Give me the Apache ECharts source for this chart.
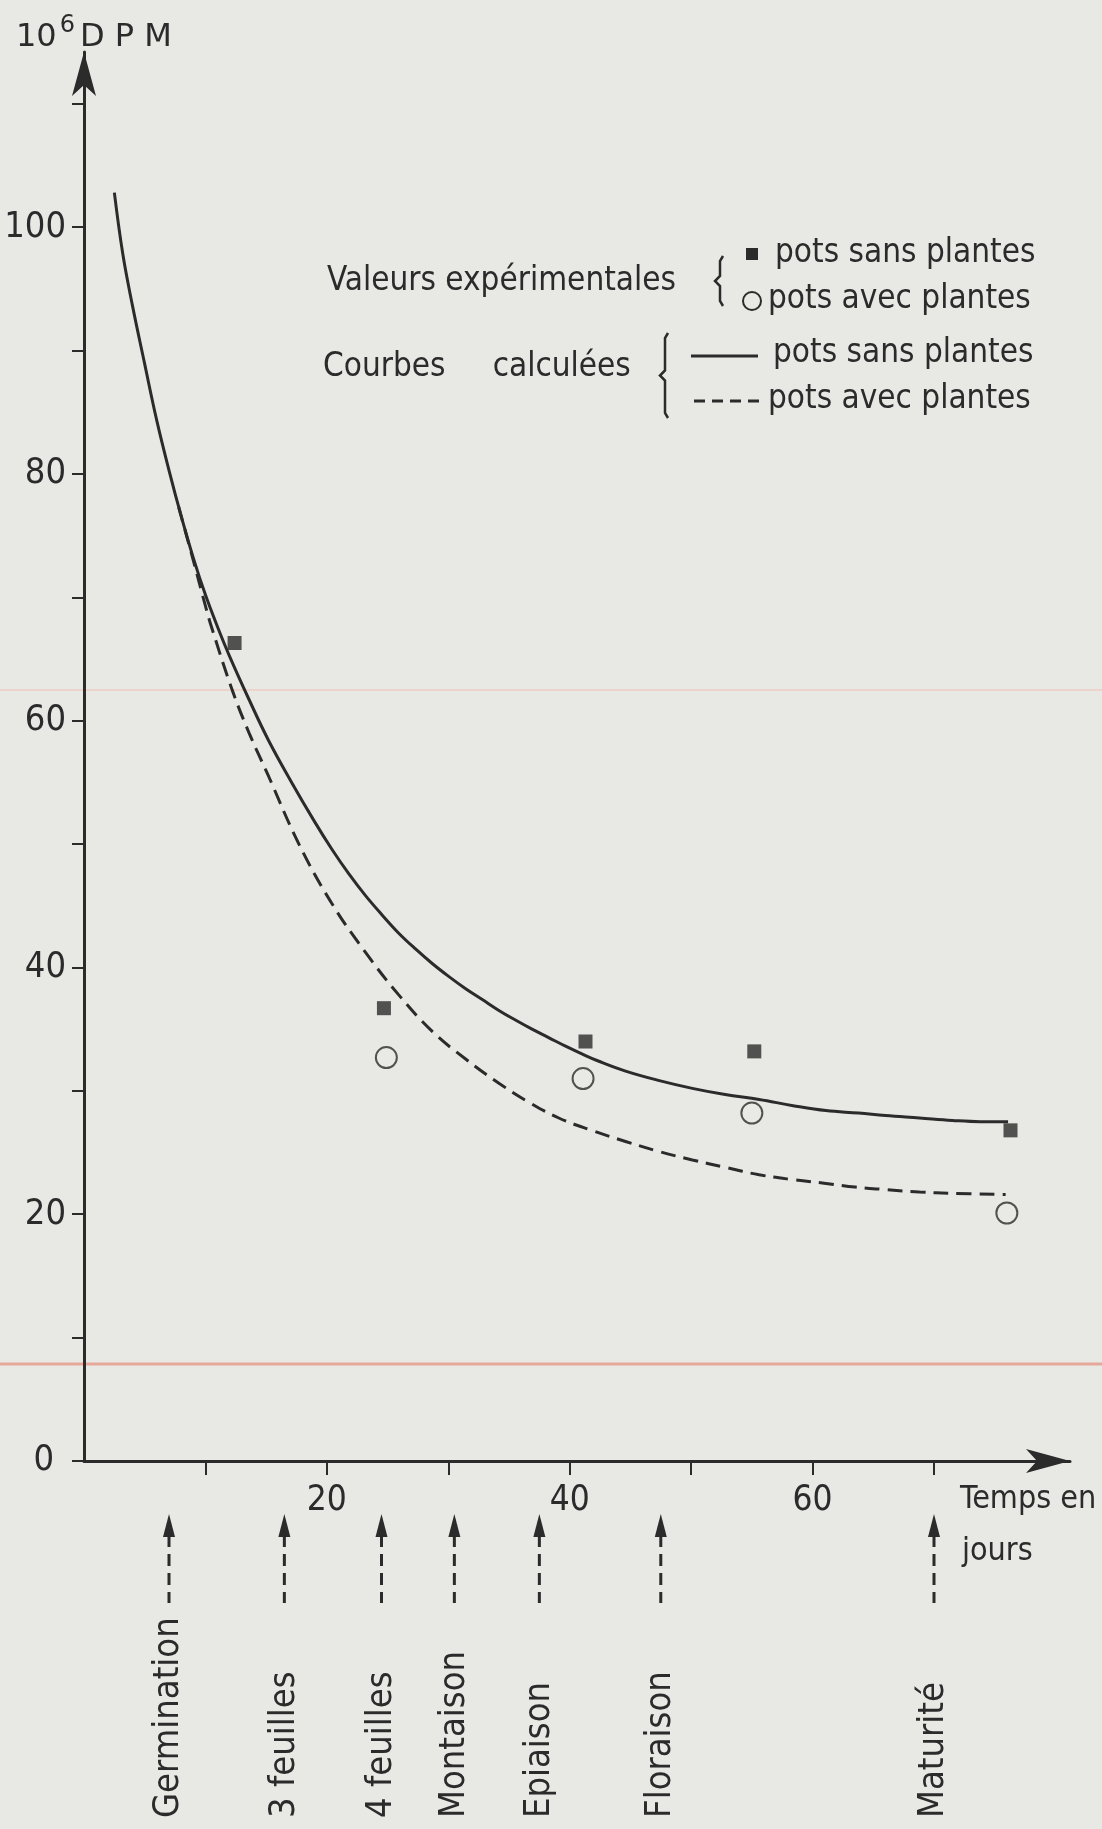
<!DOCTYPE html>
<html>
<head>
<meta charset="utf-8">
<title>Activité 10^6 DPM - pots sans / avec plantes</title>
<script src="https://cdn.jsdelivr.net/npm/echarts@6/dist/echarts.min.js"></script>
<style>
  html, body { margin: 0; padding: 0; background: #e8e8e5; }
  #chart { width: 1102px; height: 1829px; }
</style>
</head>
<body>
<div id="chart"></div>
<script>
// courbe calculée - pots sans plantes (trait plein)
const solidCurve = [
  [2.5, 102.8], [3.2, 97.8], [4.0, 93.6], [5.0, 88.9], [6.0, 84.3], [7.0, 80.3],
  [8.0, 76.6], [9.0, 73.2], [10.0, 70.2], [11.0, 67.6], [12.0, 65.2], [13.6, 61.7],
  [15.2, 58.4], [17.1, 55.0], [19.0, 51.8], [20.4, 49.6], [21.8, 47.6], [23.2, 45.8],
  [24.6, 44.2], [25.9, 42.8], [27.3, 41.5], [28.7, 40.3], [30.0, 39.3], [31.4, 38.3],
  [32.8, 37.4], [34.2, 36.5], [35.6, 35.7], [36.9, 35.0], [38.3, 34.3], [39.7, 33.6],
  [41.0, 33.0], [42.4, 32.4], [44.6, 31.6], [47.3, 30.85], [50.1, 30.2], [52.8, 29.7],
  [55.6, 29.3], [58.4, 28.8], [61.1, 28.4], [63.8, 28.2], [66.0, 28.0], [68.8, 27.8],
  [71.5, 27.6], [73.8, 27.5], [76.1, 27.5]
];
// courbe calculée - pots avec plantes (tirets)
const dashedCurve = [
  [7.8, 77.3], [9.0, 73.0], [10.0, 69.3], [10.5, 67.6], [12.2, 62.5], [13.6, 59.0],
  [15.2, 55.5], [17.7, 50.0], [20.4, 45.2], [23.2, 41.2], [25.9, 37.8], [28.7, 34.8],
  [31.4, 32.6], [34.2, 30.6], [36.6, 29.1], [39.1, 27.8], [41.8, 26.8], [44.6, 25.9],
  [47.3, 25.1], [50.1, 24.4], [52.8, 23.8], [55.6, 23.2], [58.4, 22.8], [61.1, 22.5],
  [63.5, 22.2], [66.0, 22.0], [68.8, 21.8], [71.5, 21.7], [75.9, 21.6]
];
// valeurs expérimentales
const sansPoints = [[12.4, 66.3], [24.7, 36.7], [41.3, 34.0], [55.2, 33.2], [76.3, 26.8]];
const avecPoints = [[24.9, 32.7], [41.1, 31.0], [55.0, 28.2], [76.0, 20.1]];

// graduations
const yTicks = [0, 10, 20, 30, 40, 50, 60, 70, 80, 90, 100, 110];
const yLabels = [0, 20, 40, 60, 80, 100];
const xTicks = [10, 20, 30, 40, 50, 60, 70];
const xLabels = [20, 40, 60];

// stades de développement (jours)
const stageNames = ['Germination', '3 feuilles', '4 feuilles', 'Montaison', 'Epiaison', 'Floraison', 'Maturité'];
const stageDays = [7, 16.5, 24.5, 30.5, 37.5, 47.5, 70];

const ink = '#2b2b2b';
const fontFam = "'DejaVu Sans Condensed', 'Liberation Sans Narrow', 'DejaVu Sans', sans-serif";

const chart = echarts.init(document.getElementById('chart'), null, { renderer: 'canvas' });

// fleche + tirets + nom du stade sous l'axe des temps
function renderStage(params, api) {
  const p = api.coord([api.value(0), 0]);
  const x = p[0], y0 = p[1];
  return {
    type: 'group',
    children: [
      {
        type: 'polygon',
        shape: { points: [[x, y0 + 53], [x - 6, y0 + 76], [x + 6, y0 + 76]] },
        style: { fill: ink }
      },
      {
        type: 'line',
        shape: { x1: x, y1: y0 + 74, x2: x, y2: y0 + 142 },
        style: { stroke: ink, lineWidth: 3, lineDash: [12, 7] }
      },
      {
        type: 'text',
        x: x,
        y: y0 + 357,
        rotation: Math.PI / 2,
        style: {
          text: stageNames[params.dataIndex],
          fill: ink,
          fontSize: 36,
          fontFamily: fontFam,
          align: 'left',
          verticalAlign: 'middle'
        }
      }
    ]
  };
}

function brace(x, top, bottom) {
  const mid = (top + bottom) / 2;
  return {
    type: 'polyline',
    shape: { points: [[x + 3, top], [x, top + 5], [x, mid - 5], [x - 5, mid], [x, mid + 5], [x, bottom - 5], [x + 3, bottom]] },
    style: { stroke: ink, lineWidth: 2.5, fill: null }
  };
}

function legendText(txt, left, y, size) {
  return {
    type: 'text', x: left, y: y,
    style: { text: txt, fill: ink, fontSize: size || 33, fontFamily: fontFam, verticalAlign: 'middle' }
  };
}

let option = {
  backgroundColor: '#e8e8e5',
  animation: false,
  grid: { left: 84, right: 32, top: 52, bottom: 368 },
  xAxis: {
    type: 'value',
    min: 0,
    max: 81.2,
    axisLine: {
      show: true,
      symbol: ['none', 'arrow'],
      symbolSize: [18, 44],
      lineStyle: { color: ink, width: 3 }
    },
    axisTick: { show: true, customValues: xTicks, length: 14, lineStyle: { color: ink, width: 2 } },
    axisLabel: { customValues: xLabels, margin: 22, fontSize: 35, color: ink, fontFamily: fontFam },
    splitLine: { show: false }
  },
  yAxis: {
    type: 'value',
    min: 0,
    max: 114.2,
    axisLine: {
      show: true,
      symbol: ['none', 'arrow'],
      symbolSize: [18, 44],
      lineStyle: { color: ink, width: 3 }
    },
    axisTick: { show: true, customValues: yTicks, length: 12, lineStyle: { color: ink, width: 2 } },
    axisLabel: {
      customValues: yLabels,
      margin: 18,
      fontSize: 36,
      color: ink,
      fontFamily: fontFam,
      formatter: v => (v === 0 ? '{z|0}' : String(v)),
      rich: { z: { fontSize: 36, fontFamily: fontFam, color: ink, padding: [0, 12, 0, 0] } }
    },
    splitLine: { show: false }
  },
  series: [
    {
      name: 'pots sans plantes (calculée)',
      type: 'line',
      data: solidCurve,
      smooth: 0.4,
      symbol: 'none',
      lineStyle: { color: ink, width: 3 }
    },
    {
      name: 'pots avec plantes (calculée)',
      type: 'line',
      data: dashedCurve,
      smooth: 0.4,
      symbol: 'none',
      lineStyle: { color: ink, width: 3, type: [15, 8] }
    },
    {
      name: 'pots sans plantes',
      type: 'scatter',
      data: sansPoints,
      symbol: 'rect',
      symbolSize: 14,
      itemStyle: { color: ink }
    },
    {
      name: 'pots avec plantes',
      type: 'scatter',
      data: avecPoints,
      symbol: 'circle',
      symbolSize: 21,
      itemStyle: { color: '#e8e8e5', borderColor: ink, borderWidth: 2 }
    },
    {
      name: 'stades',
      type: 'custom',
      clip: false,
      silent: true,
      renderItem: renderStage,
      encode: { x: 0, y: 1 },
      data: stageDays.map(d => [d, 0])
    }
  ],
  graphic: [
    // lignes du papier scanné
    { type: 'line', z: -1, shape: { x1: 0, y1: 690, x2: 1102, y2: 690 }, style: { stroke: '#ecd3cc', lineWidth: 2 } },
    { type: 'line', z: -1, shape: { x1: 0, y1: 1364, x2: 1102, y2: 1364 }, style: { stroke: '#e6a999', lineWidth: 3 } },
    // titre de l'axe vertical
    {
      type: 'text', left: 16, top: 14,
      style: {
        text: '{n|10}{s|6}{n|D P M}',
        rich: {
          n: { fontSize: 32, fill: ink, fontFamily: 'DejaVu Sans', verticalAlign: 'bottom', lineHeight: 40 },
          s: { fontSize: 24, fill: ink, fontFamily: 'DejaVu Sans', verticalAlign: 'top', padding: [0, 5, 14, 3] }
        }
      }
    },
    // titre de l'axe horizontal
    legendText('Temps en', 960, 1500, 32),
    legendText('jours', 962, 1552, 32),
    // légende
    legendText('Valeurs expérimentales', 327, 281),
    brace(720, 256, 306),
    { type: 'rect', shape: { x: 746, y: 248, width: 12, height: 12 }, style: { fill: ink } },
    legendText('pots sans plantes', 775, 253),
    { type: 'circle', shape: { cx: 752, cy: 301, r: 9 }, style: { fill: null, stroke: ink, lineWidth: 2 } },
    legendText('pots avec plantes', 768, 299),
    legendText('Courbes     calculées', 323, 367),
    brace(665, 333, 418),
    { type: 'line', shape: { x1: 691, y1: 356, x2: 758, y2: 356 }, style: { stroke: ink, lineWidth: 3 } },
    legendText('pots sans plantes', 773, 353),
    { type: 'line', shape: { x1: 694, y1: 401, x2: 764, y2: 401 }, style: { stroke: ink, lineWidth: 3, lineDash: [11, 7] } },
    legendText('pots avec plantes', 768, 399)
  ]
};

chart.setOption(option);
</script>
</body>
</html>
